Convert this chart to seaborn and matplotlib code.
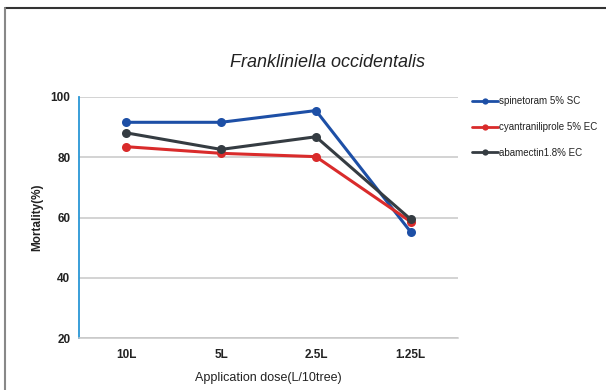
import matplotlib
matplotlib.use("Agg")
import matplotlib.pyplot as plt
from matplotlib.lines import Line2D
import seaborn as sns
import pandas as pd

doses = ["10L", "5L", "2.5L", "1.25L"]
spinetoram = [91.6, 91.6, 95.5, 55.2]
cyantraniliprole = [83.5, 81.3, 80.2, 58.6]
abamectin = [88.1, 82.6, 86.8, 59.4]
series_names = ["spinetoram 5% SC", "cyantraniliprole 5% EC", "abamectin1.8% EC"]
y_ticks = [20, 40, 60, 80, 100]

colors = ["#1d4fa6", "#d92b2b", "#353c42"]

df = pd.DataFrame({
    "dose": doses * 3,
    "mortality": spinetoram + cyantraniliprole + abamectin,
    "treatment": [n for n in series_names for _ in doses],
})

sns.set_style("white")
plt.rcParams["font.family"] = ["Liberation Sans", "DejaVu Sans"]

fig = plt.figure(figsize=(6.06, 3.9), dpi=100)
ax = fig.add_axes([0.130, 0.1333, 0.626, 0.618])

sns.lineplot(data=df, x="dose", y="mortality", hue="treatment",
             palette=colors, marker="o", markersize=6.5, markeredgewidth=0,
             linewidth=2.2, sort=False, ax=ax, legend=False)

ax.set_ylim(20, 100)
ax.set_xlim(-0.5, 3.5)
ax.set_yticks(y_ticks)
ax.set_xticks(range(len(doses)))
ax.set_xticklabels(doses)
ax.yaxis.grid(True, color="#c8c8c8", linewidth=1.1)
ax.set_axisbelow(True)

for s in ["top", "right"]:
    ax.spines[s].set_visible(False)
ax.spines["left"].set_color("#2a96d6")
ax.spines["left"].set_linewidth(1.3)
ax.spines["bottom"].set_color("#c8c8c8")
ax.spines["bottom"].set_linewidth(1.1)

ax.tick_params(axis="y", length=3, width=1.3, color="#2a96d6", pad=3,
               labelsize=8.5, labelcolor="#222222")
ax.tick_params(axis="x", length=0, pad=8, labelsize=8.5, labelcolor="#222222")
for lab in ax.get_xticklabels() + ax.get_yticklabels():
    lab.set_fontweight("bold")

ax.set_ylabel("Mortality(%)", fontsize=8.5, fontweight="bold", color="#222222", labelpad=5)
ax.set_xlabel("Application dose(L/10tree)", fontsize=9, color="#222222", labelpad=8)

fig.text(0.54, 0.84, "Frankliniella occidentalis", fontsize=13, style="italic",
         ha="center", va="center", color="#222222")

handles = [Line2D([0], [0], color=c, linewidth=2.0, marker="o", markersize=4.5,
                  markeredgewidth=0) for c in colors]
fig.legend(handles, series_names, loc="upper left", bbox_to_anchor=(0.765, 0.775),
           frameon=False, fontsize=7, handlelength=2.6, handletextpad=0.1,
           labelspacing=1.6, labelcolor="#222222")

# frame lines of the original figure box
fig.add_artist(Line2D([0.009, 1.0], [0.979, 0.979], color="#333333", linewidth=1.5))
fig.add_artist(Line2D([0.009, 0.009], [0.0, 0.979], color="#888888", linewidth=1.5))

fig.savefig("out.png", dpi=100)
